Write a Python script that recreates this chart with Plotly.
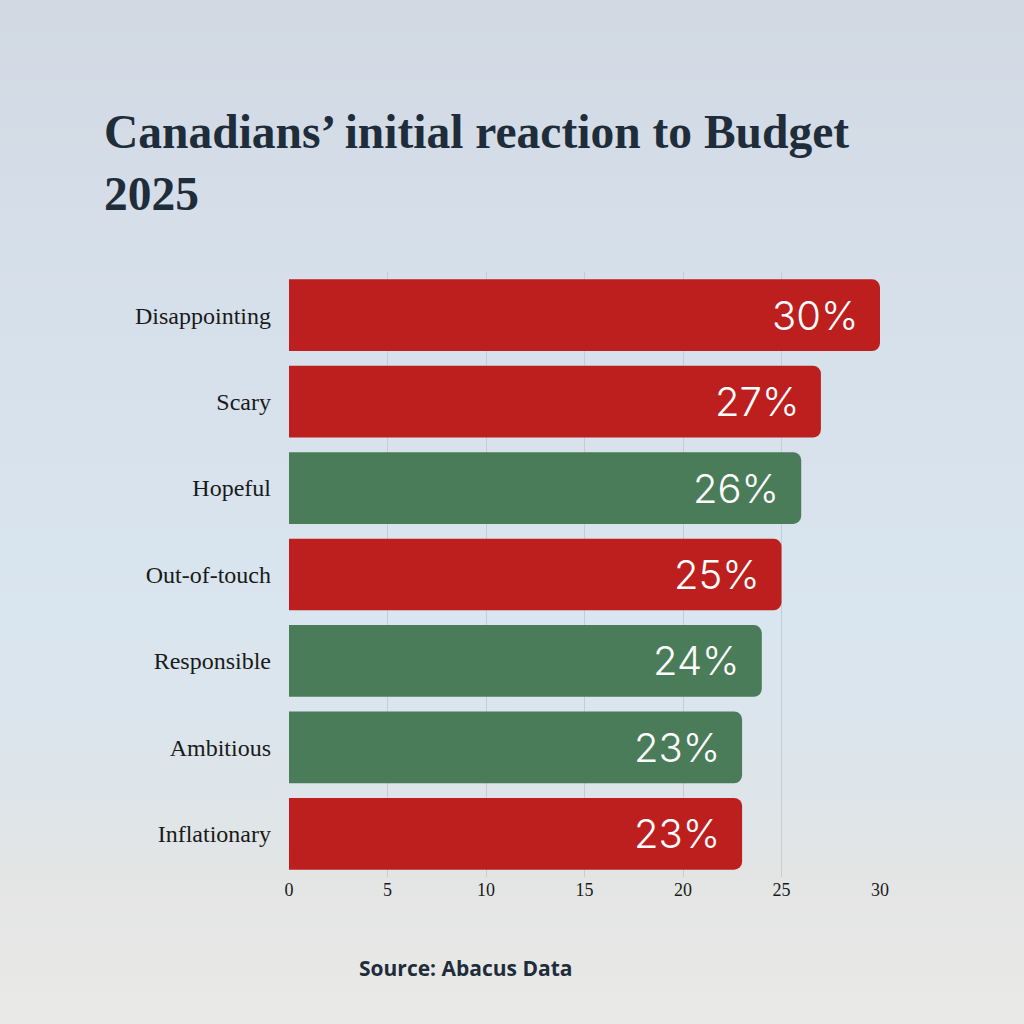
import plotly.graph_objects as go

# data
categories = ["Disappointing", "Scary", "Hopeful", "Out-of-touch",
              "Responsible", "Ambitious", "Inflationary"]
values = [30, 27, 26, 25, 24, 23, 23]
tone = ["neg", "neg", "pos", "neg", "pos", "pos", "neg"]
x_ticks = [0, 5, 10, 15, 20, 25, 30]

RED = "#bd1f1f"
GREEN = "#4a7c59"
NAVY = "#1f2d3b"

W, H = 1024, 1024
L, R, T, B = 289, 144, 272, 147


def lerp(c1, c2, t):
    a = [int(c1[i:i + 2], 16) for i in (1, 3, 5)]
    b = [int(c2[i:i + 2], 16) for i in (1, 3, 5)]
    return "#" + "".join(f"{round(x + (y - x) * t):02x}" for x, y in zip(a, b))


# background: soft vertical gradient (stand-in for the photo)
stops = [(0, "#d2d9e3"), (300, "#d6e0eb"), (620, "#d9e5ef"),
         (760, "#dde5eb"), (860, "#e3e5e5"), (1024, "#eaeae7")]
shapes = []
band = 16
pw, ph = W - L - R, H - T - B
for y in range(0, H, band):
    for (y0, c0), (y1, c1) in zip(stops, stops[1:]):
        if y0 <= y <= y1:
            col = lerp(c0, c1, (y - y0) / (y1 - y0))
            break
    shapes.append(dict(
        type="rect", xref="paper", yref="paper", layer="below",
        x0=-L / pw - 0.01, x1=(W - L) / pw + 0.01,
        y0=(H - B - y - band - 1) / ph, y1=(H - B - y) / ph,
        fillcolor=col, line=dict(width=0),
    ))

fig = go.Figure()
fig.add_trace(go.Bar(
    x=values,
    y=categories,
    orientation="h",
    marker=dict(color=[RED if t == "neg" else GREEN for t in tone],
                line=dict(width=0), cornerradius=8),
    hoverinfo="skip",
))

annotations = [
    dict(x=v, y=c, xref="x", yref="y", text=f"{v}%", showarrow=False,
         xanchor="right", xshift=-20,
         font=dict(family="Inter", size=40, weight=300, color="white"))
    for c, v in zip(categories, values)
]
annotations.append(dict(
    xref="paper", yref="paper", x=(102 - L) / pw, y=(H - B - 104) / ph,
    xanchor="left", yanchor="top", align="left", showarrow=False,
    text="<b>Canadians’ initial reaction to Budget<br>2025</b>",
    font=dict(family="Liberation Serif", size=47.5, color=NAVY),
))
annotations.append(dict(
    xref="paper", yref="paper", x=(357 - L) / pw, y=(H - B - 968) / ph,
    xanchor="left", yanchor="middle", showarrow=False,
    text="<b>Source: Abacus Data</b>",
    font=dict(family="Open Sans", size=21, color=NAVY),
))

fig.update_layout(
    width=W, height=H,
    margin=dict(l=L, r=R, t=T, b=B),
    paper_bgcolor="#d6dfea",
    plot_bgcolor="rgba(0,0,0,0)",
    bargap=0.17,
    showlegend=False,
    shapes=shapes,
    annotations=annotations,
    xaxis=dict(
        range=[0, 30], tickvals=x_ticks, showgrid=True,
        gridcolor="#c7ccd2", gridwidth=1, zeroline=False,
        showline=False, ticks="",
        tickfont=dict(family="Liberation Serif", size=18, color="#1a1a1a"),
    ),
    yaxis=dict(
        autorange="reversed", showgrid=False, showline=False, ticks="",
        ticklabelstandoff=17,
        tickfont=dict(family="Liberation Serif", size=24, color="#1a1a1a"),
    ),
)

fig.write_html("out.html", config={"displayModeBar": False},
               post_script="document.body.style.margin = '0';")
